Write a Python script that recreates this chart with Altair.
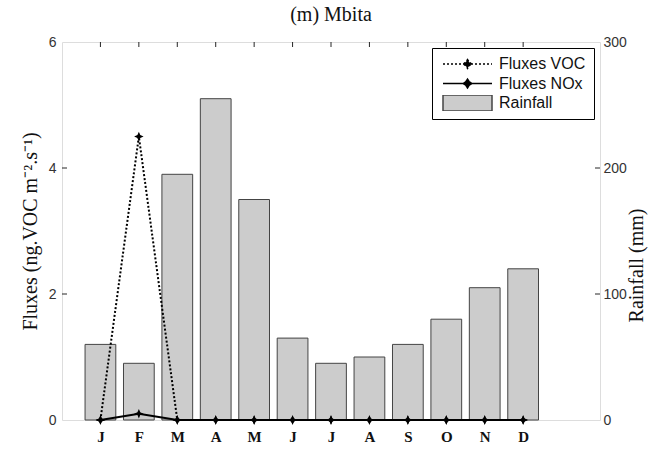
import json
import altair as alt
import pandas as pd

# ---- data ----
months = ["J", "F", "M", "A", "M", "J", "J", "A", "S", "O", "N", "D"]
month_idx = list(range(1, 13))
rainfall = [60, 45, 195, 255, 175, 65, 45, 50, 60, 80, 105, 120]
voc = [0, 4.5, 0, 0, 0, 0, 0, 0, 0, 0, 0, 0]
nox = [0, 0.1, 0, 0, 0, 0, 0, 0, 0, 0, 0, 0]
flux_ticks = [0, 2, 4, 6]
rain_ticks = [0, 100, 200, 300]
inner_ticks = [2, 4]
legend_labels = ["Fluxes VOC", "Fluxes NOx", "Rainfall"]

rain_df = pd.DataFrame({"m": month_idx, "rain": rainfall})
voc_df = pd.DataFrame({"m": month_idx, "flux": voc})
nox_df = pd.DataFrame({"m": month_idx, "flux": nox})
tick_df = pd.DataFrame({"flux": inner_ticks})
mtick_df = pd.DataFrame({"m": month_idx})
legend_df = pd.DataFrame({"series": legend_labels})

SERIF = "Liberation Serif"
SANS = "Liberation Sans"
AX = "#262626"

label_expr = json.dumps(months) + "[datum.value - 1]"
x_scale = alt.Scale(domain=[0, 14], nice=False, zero=False)
x_axis = alt.Axis(values=month_idx, labelExpr=label_expr, ticks=False, domain=False,
                  grid=False, labelFont=SERIF, labelFontWeight="bold", labelFontSize=15,
                  labelColor="#111", labelPadding=9, title=None)

flux_scale = alt.Scale(domain=[0, 6], nice=False)
flux_axis = alt.Axis(orient="left", values=flux_ticks, ticks=False, domain=False, grid=False,
                     labelFont=SANS, labelFontSize=14, labelColor="#333", labelPadding=6,
                     title="Fluxes (ng.VOC m\u207b\u00b2.s\u207b\u00b9)", titleFont=SERIF,
                     titleFontSize=20, titleFontWeight="normal", titleColor="#111",
                     titlePadding=8)
y_flux = alt.Y("flux:Q", scale=flux_scale, axis=flux_axis)

rain_axis = alt.Axis(orient="right", values=rain_ticks, ticks=False, domain=False, grid=False,
                     labelFont=SANS, labelFontSize=14, labelColor="#333", labelPadding=3,
                     title="Rainfall (mm)", titleFont=SERIF, titleFontSize=20,
                     titleFontWeight="normal", titleColor="#111", titleAngle=270,
                     titleX=36, titleY=223, titleAlign="center", titleBaseline="middle")

bars = alt.Chart(rain_df).transform_calculate(
    lo="datum.m - 0.4", hi="datum.m + 0.4"
).mark_bar(fill="#cccccc", stroke="#444444", strokeWidth=1).encode(
    x=alt.X("lo:Q", scale=x_scale, axis=x_axis),
    x2="hi:Q",
    y=alt.Y("rain:Q", scale=alt.Scale(domain=[0, 300], nice=False), axis=rain_axis),
    y2=alt.datum(0),
)

star = "M0,-1L0.3,-0.3L1,0L0.3,0.3L0,1L-0.3,0.3L-1,0L-0.3,-0.3Z"

voc_line = alt.Chart(voc_df).mark_line(color="black", strokeDash=[2, 2], strokeWidth=2).encode(
    x=alt.X("m:Q", scale=x_scale, axis=x_axis), y=y_flux)
voc_pts = alt.Chart(voc_df).mark_point(shape=star, filled=True, size=90, color="black",
                                       opacity=1).encode(
    x=alt.X("m:Q", scale=x_scale, axis=x_axis), y=y_flux)
nox_line = alt.Chart(nox_df).mark_line(color="black", strokeWidth=2).encode(
    x=alt.X("m:Q", scale=x_scale, axis=x_axis), y=y_flux)
nox_pts = alt.Chart(nox_df).mark_point(shape=star, filled=True, size=90, color="black",
                                       opacity=1).encode(
    x=alt.X("m:Q", scale=x_scale, axis=x_axis), y=y_flux)

left_ticks = alt.Chart(tick_df).mark_rule(color=AX, strokeWidth=1).encode(
    y=y_flux, x=alt.value(0), x2=alt.value(5))
right_ticks = alt.Chart(tick_df).mark_rule(color=AX, strokeWidth=1).encode(
    y=y_flux, x=alt.value(533), x2=alt.value(538))
top_ticks = alt.Chart(mtick_df).mark_rule(color=AX, strokeWidth=1).encode(
    x=alt.X("m:Q", scale=x_scale, axis=x_axis), y=alt.value(0), y2=alt.value(5))

# legend (built from the scale domain; no marks drawn)
leg = alt.Legend(title=None, orient="none", legendX=370, legendY=6, strokeColor="black",
                 fillColor="white", padding=8, symbolSize=2401, clipHeight=16,
                 rowPadding=3.5, labelFont=SANS, labelFontSize=16, labelColor="#111",
                 symbolOffset=2, labelOffset=6, symbolStrokeWidth=1.5, cornerRadius=0)
voc_shape = "M-1,0L1,0M0,-0.18L0.07,-0.07L0.18,0L0.07,0.07L0,0.18L-0.07,0.07L-0.18,0L-0.07,-0.07Z"
rect_shape = "M-1,-0.33L1,-0.33L1,0.33L-1,0.33Z"
legend_layer = alt.Chart(legend_df).transform_filter("false").mark_point(opacity=1).encode(
    shape=alt.Shape("series:N", scale=alt.Scale(domain=legend_labels,
                                                range=[voc_shape, voc_shape, rect_shape]), legend=leg),
    fill=alt.Fill("series:N", scale=alt.Scale(domain=legend_labels,
                                              range=["black", "black", "#cccccc"]), legend=leg),
    stroke=alt.Stroke("series:N", scale=alt.Scale(domain=legend_labels,
                                                  range=["black", "black", "#444444"]), legend=leg),
    strokeDash=alt.StrokeDash("series:N", scale=alt.Scale(domain=legend_labels,
                                                          range=[[2, 2], [1, 0], [1, 0]]), legend=leg),
)

inner = alt.layer(voc_line, nox_line, voc_pts, nox_pts, left_ticks, right_ticks, top_ticks,
                  legend_layer)

chart = alt.layer(bars, inner).resolve_scale(y="independent").properties(
    width=538, height=378,
    title=alt.TitleParams("(m) Mbita", font=SERIF, fontSize=20, fontWeight="normal",
                          color="#111", anchor="middle", offset=10),
    autosize=alt.AutoSizeParams(type="none"),
    padding={"left": 62, "top": 42, "right": 56, "bottom": 29},
).configure_view(stroke=AX, strokeWidth=1).configure(background="white")

chart.save("out.html", embed_options={"renderer": "svg", "actions": False})
